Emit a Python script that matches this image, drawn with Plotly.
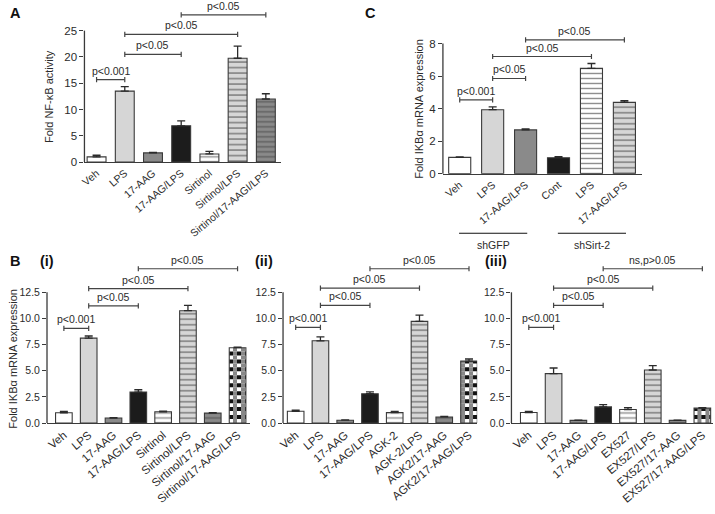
import numpy as np
import plotly.graph_objects as go

W, H = 715, 514
FONT = "Arial, 'Liberation Sans', Helvetica, sans-serif"
INK = "#2b2b2b"
LINE = "#3a3a3a"

# ---------------- Data ----------------
# Panel A
A_labels = ["Veh", "LPS", "17-AAG", "17-AAG/LPS", "Sirtinol", "Sirtinol/LPS", "Sirtinol/17-AAGI/LPS"]
A_values = [1.0, 13.5, 1.75, 6.9, 1.55, 19.75, 12.0]
A_sem = [0.3, 0.85, 0.07, 0.95, 0.5, 2.3, 1.0]
A_styles = ["white", "light", "gray", "black", "white_lines", "light_lines", "gray_lines"]
A_br_from = [0, 1, 1, 3]
A_br_to = [1, 3, 5, 6]
A_br_y = [15.7, 20.5, 24.3, 28.0]
A_br_text = ["p<0.001", "p<0.05", "p<0.05", "p<0.05"]
A_yticks = [0, 5, 10, 15, 20, 25]

# Panel C
C_labels = ["Veh", "LPS", "17-AAG/LPS", "Cont", "LPS", "17-AAG/LPS"]
C_values = [1.0, 3.93, 2.69, 0.98, 6.47, 4.38]
C_sem = [0.03, 0.17, 0.06, 0.06, 0.3, 0.1]
C_styles = ["white", "light", "gray", "black", "white_lines", "light_lines"]
C_br_from = [0, 1, 1, 2]
C_br_to = [1, 2, 4, 5]
C_br_y = [4.53, 5.85, 7.2, 8.22]
C_br_text = ["p<0.001", "p<0.05", "p<0.05", "p<0.05"]
C_yticks = [0, 2, 4, 6, 8]
C_groups = ["shGFP", "shSirt-2"]
C_group_from = [0, 3]
C_group_to = [2, 5]

# Panel B (i)
Bi_labels = ["Veh", "LPS", "17-AAG", "17-AAG/LPS", "Sirtinol", "Sirtinol/LPS",
             "Sirtinol/17-AAG", "Sirtinol/17-AAG/LPS"]
Bi_values = [0.98, 8.12, 0.48, 2.96, 1.07, 10.74, 0.94, 7.2]
Bi_sem = [0.12, 0.2, 0.03, 0.22, 0.06, 0.5, 0.06, 0.05]

# Panel B (ii)
Bii_labels = ["Veh", "LPS", "17-AAG", "17-AAG/LPS", "AGK-2", "AGK-2/LPS",
              "AGK2/17-AAG", "AGK2/17-AAG/LPS"]
Bii_values = [1.12, 7.86, 0.27, 2.8, 1.0, 9.72, 0.58, 5.92]
Bii_sem = [0.1, 0.38, 0.03, 0.18, 0.12, 0.6, 0.06, 0.2]

# Panel B (iii)
Biii_labels = ["Veh", "LPS", "17-AAG", "17-AAG/LPS", "EX527", "EX527/LPS",
               "EX527/17-AAG", "EX527/17-AAG/LPS"]
Biii_values = [1.0, 4.72, 0.25, 1.54, 1.29, 5.07, 0.25, 1.42]
Biii_sem = [0.1, 0.54, 0.03, 0.22, 0.19, 0.41, 0.03, 0.06]

B_styles = ["white", "light", "gray", "black", "white_lines", "light_lines", "gray_lines", "checker"]
B_br_from = [0, 1, 1, 3]
B_br_to = [1, 3, 5, 7]
Bi_br_y = [9.05, 11.2, 12.85, 14.75]
Bii_br_y = [9.15, 11.25, 12.9, 14.75]
Biii_br_y = [9.15, 11.25, 12.9, 14.75]
Bi_br_text = ["p<0.001", "p<0.05", "p<0.05", "p<0.05"]
Bii_br_text = ["p<0.001", "p<0.05", "p<0.05", "p<0.05"]
Biii_br_text = ["p<0.001", "p<0.05", "p<0.05", "ns,p>0.05"]
B_yticks = [0, 2.5, 5.0, 7.5, 10.0, 12.5]

# ---------------- Styles ----------------
STYLES = {
    "white": dict(color="white"),
    "light": dict(color="#d6d6d6"),
    "gray": dict(color="#8a8a8a"),
    "black": dict(color="#1c1c1c"),
    "white_lines": dict(color="white", pattern=dict(shape="-", fgcolor="#1a1a1a", bgcolor="white",
                                                     size=5, solidity=0.28)),
    "light_lines": dict(color="#d6d6d6", pattern=dict(shape="-", fgcolor="#2a2a2a", bgcolor="#d6d6d6",
                                                       size=5.5, solidity=0.28)),
    "gray_lines": dict(color="#8a8a8a", pattern=dict(shape="-", fgcolor="#333333", bgcolor="#8a8a8a",
                                                      size=5, solidity=0.3)),
}
CHECK_ROW = 0.38
BAR_W = 0.67
TICK_ANGLE = -40

# geometry: x0px, x1px, y-bottom px, px per unit
panels = [
    dict(xid="x", yid="y", labels=A_labels, values=A_values, sem=A_sem, styles=A_styles,
         br_from=A_br_from, br_to=A_br_to, br_y=A_br_y, br_text=A_br_text,
         yticks=A_yticks, fmt="{:g}", geom=(80, 278.3, 164, 5.32), ytop=30, xr=(-0.43, 6.55),
         xfs=10.5, yfs=11.5, axmax=25),
    dict(xid="x2", yid="y2", labels=C_labels, values=C_values, sem=C_sem, styles=C_styles,
         br_from=C_br_from, br_to=C_br_to, br_y=C_br_y, br_text=C_br_text,
         yticks=C_yticks, fmt="{:g}", geom=(441, 641, 175.7, 16.46), ytop=10, xr=(-0.51, 5.52),
         xfs=10.5, yfs=11.5, axmax=8),
    dict(xid="x3", yid="y3", labels=Bi_labels, values=Bi_values, sem=Bi_sem, styles=B_styles,
         br_from=B_br_from, br_to=B_br_to, br_y=Bi_br_y, br_text=Bi_br_text,
         yticks=B_yticks, fmt="{:.1f}", geom=(42.3, 246.7, 428, 10.58), ytop=16.5, xr=(-0.68, 7.5),
         xfs=11.5, yfs=10.5, axmax=12.5),
    dict(xid="x4", yid="y4", labels=Bii_labels, values=Bii_values, sem=Bii_sem, styles=B_styles,
         br_from=B_br_from, br_to=B_br_to, br_y=Bii_br_y, br_text=Bii_br_text,
         yticks=B_yticks, fmt="{:.1f}", geom=(280, 475.5, 428, 10.58), ytop=16.5, xr=(-0.51, 7.33),
         xfs=11.5, yfs=10.5, axmax=12.5),
    dict(xid="x5", yid="y5", labels=Biii_labels, values=Biii_values, sem=Biii_sem, styles=B_styles,
         br_from=B_br_from, br_to=B_br_to, br_y=Biii_br_y, br_text=Biii_br_text,
         yticks=B_yticks, fmt="{:.1f}", geom=(510, 713, 428, 10.58), ytop=16.5, xr=(-0.7, 7.43),
         xfs=11.5, yfs=10.5, axmax=12.5),
]

fig = go.Figure()
shapes, annotations = [], []
layout_axes = {}


def err(sem):
    return dict(type="data", symmetric=False, array=[sem], arrayminus=[0], color=INK,
                thickness=1.3, width=4, visible=True)


for p in panels:
    xid, yid = p["xid"], p["yid"]
    for i, (v, s, st) in enumerate(zip(p["values"], p["sem"], p["styles"])):
        common = dict(xaxis=xid, yaxis=yid, showlegend=False, hoverinfo="skip", width=BAR_W)
        if st == "checker":
            bases = np.arange(0, v, CHECK_ROW)
            heights = np.minimum(CHECK_ROW, v - bases)
            for k, (fg, bg) in enumerate([("#111111", "white"), ("white", "#111111")]):
                fig.add_trace(go.Bar(x=[i] * len(bases[k::2]), y=heights[k::2], base=bases[k::2],
                                     marker=dict(color=bg, pattern=dict(shape="|", fgcolor=fg, bgcolor=bg,
                                                                        size=8, solidity=0.5),
                                                 line=dict(width=0)), **common))
            fig.add_trace(go.Bar(x=[i], y=[v], marker=dict(color="rgba(0,0,0,0)",
                                                           line=dict(color=LINE, width=1.1)),
                                 error_y=err(s), **common))
        else:
            m = dict(STYLES[st])
            m["line"] = dict(color=LINE, width=1.1)
            fig.add_trace(go.Bar(x=[i], y=[v], marker=m, error_y=err(s), **common))

    x0, x1, yb, sc = p["geom"]
    ytop_px = yb - p["ytop"] * sc
    n = len(p["labels"])
    xkey = "xaxis" + xid[1:]
    ykey = "yaxis" + yid[1:]
    layout_axes[xkey] = dict(domain=[x0 / W, x1 / W], range=list(p["xr"]), anchor=yid,
                             showline=True, linecolor=LINE, linewidth=1.3, ticks="",
                             tickmode="array", tickvals=list(range(n)),
                             ticktext=p["labels"], tickangle=TICK_ANGLE,
                             tickfont=dict(size=p["xfs"], color=INK, family=FONT),
                             showgrid=False, zeroline=False, fixedrange=True)
    layout_axes[ykey] = dict(domain=[1 - yb / H, 1 - ytop_px / H], range=[0, p["ytop"]], anchor=xid,
                             showline=False, ticks="outside", ticklen=4, tickwidth=1.3, tickcolor=LINE,
                             tickmode="array", tickvals=p["yticks"],
                             ticktext=[p["fmt"].format(t) for t in p["yticks"]],
                             tickfont=dict(size=p["yfs"], color=INK, family=FONT),
                             showgrid=False, zeroline=False, fixedrange=True)
    # y axis line from 0 to last tick
    shapes.append(dict(type="line", xref="paper", yref="paper", x0=x0 / W, x1=x0 / W,
                       y0=1 - yb / H, y1=1 - (yb - p["axmax"] * sc) / H,
                       line=dict(color=LINE, width=1.3)))
    # significance brackets
    for a, b, yv, t in zip(p["br_from"], p["br_to"], p["br_y"], p["br_text"]):
        shapes.append(dict(type="line", xref=xid, yref=yid, x0=a, x1=b, y0=yv, y1=yv,
                           line=dict(color="#444", width=1.2)))
        for xe in (a, b):
            shapes.append(dict(type="line", xref=xid, yref=yid, x0=xe, x1=xe, ysizemode="pixel",
                               yanchor=yv, y0=-2.6, y1=2.6, line=dict(color="#444", width=1.2)))
        annotations.append(dict(x=(a + b) / 2, y=yv, xref=xid, yref=yid, text=t, showarrow=False,
                                xanchor="center", yanchor="bottom", yshift=1,
                                font=dict(size=10.5, color=INK, family=FONT)))

# C group lines and labels
for g, a, b in zip(C_groups, C_group_from, C_group_to):
    shapes.append(dict(type="line", xref="x2", yref="paper", x0=a - 0.02, x1=b + 0.05,
                       y0=1 - 236 / H, y1=1 - 236 / H, line=dict(color="#111", width=1.2)))
    annotations.append(dict(x=(a + b) / 2 + 0.02, y=1 - 240 / H, xref="x2", yref="paper", text=g,
                            showarrow=False, xanchor="center", yanchor="top",
                            font=dict(size=10.5, color=INK, family=FONT)))

# axis titles
for txt, xp, yp in [("Fold NF-κB activity", 45, 97.5),
                    ("Fold IKBα mRNA expression", 417, 110),
                    ("Fold IKBα mRNA expression", 8, 363)]:
    annotations.append(dict(x=xp / W, y=1 - yp / H, xref="paper", yref="paper", text=txt,
                            textangle=-90, showarrow=False, xanchor="center", yanchor="middle",
                            font=dict(size=11, color=INK, family=FONT)))
# panel letters
for txt, xp, yp in [("A", 3, 13), ("C", 361, 13), ("B", 3, 264), ("(i)", 33, 264),
                    ("(ii)", 250, 264), ("(iii)", 481, 264)]:
    annotations.append(dict(x=xp / W, y=1 - yp / H, xref="paper", yref="paper", text=f"<b>{txt}</b>",
                            xanchor="left", yanchor="middle", showarrow=False,
                            font=dict(size=14.5, color="#111", family=FONT)))

fig.update_layout(width=W, height=H, margin=dict(l=0, r=0, t=0, b=0), barmode="overlay",
                  paper_bgcolor="white", plot_bgcolor="white", shapes=shapes, annotations=annotations,
                  font=dict(family=FONT, color=INK), **layout_axes)

fig.write_html("out.html", config={"displayModeBar": False},
               post_script="document.body.style.margin='0px';document.body.style.overflow='hidden';")
